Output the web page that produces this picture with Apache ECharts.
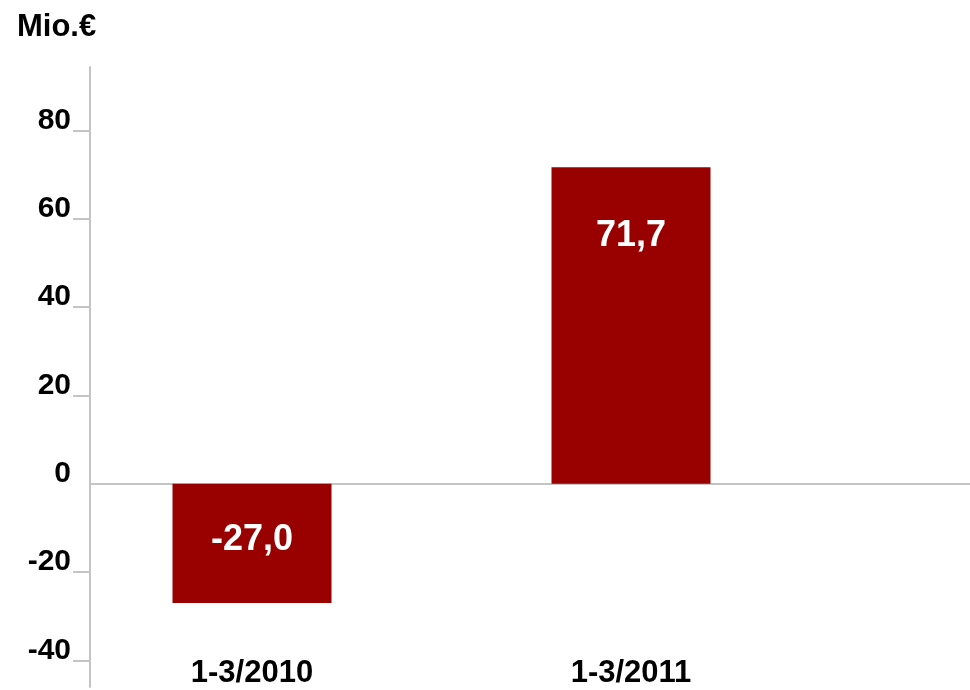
<!DOCTYPE html>
<html>
<head>
<meta charset="utf-8">
<script src="https://cdn.jsdelivr.net/npm/echarts@6/dist/echarts.min.js"></script>
<style>html,body{margin:0;padding:0;background:#fff}#c{width:970px;height:690px}</style>
</head>
<body>
<div id="c"></div>
<script>
var categories = ['1-3/2010', '1-3/2011'];
var values = [-27.0, 71.7];
var tickValues = [-40, -20, 0, 20, 40, 60, 80];
var tickMarks = [-40, -20, 20, 40, 60, 80];
var unitLabel = 'Mio.€';

var FONT = '"Liberation Sans", Arial, sans-serif';
var YMIN = -46, YMAX = 94.4;
var GREY = '#c4c4c4';

var chart = echarts.init(document.getElementById('c'), null, {renderer: 'canvas'});
chart.setOption({
  animation: false,
  backgroundColor: '#fff',
  title: {
    text: unitLabel, left: 12, top: 7,
    textStyle: {fontFamily: FONT, fontWeight: 'bold', fontSize: 31, color: '#000'}
  },
  grid: [
    {left: 90, right: 0, top: 67, bottom: 3},
    {left: 62.5, right: 149.5, top: 67, bottom: 3}
  ],
  xAxis: [
    {
      gridIndex: 0, type: 'value', min: 0, max: 1,
      axisLine: {show: true, onZero: true, lineStyle: {color: GREY, width: 2}},
      axisTick: {show: false}, axisLabel: {show: false}, splitLine: {show: false}
    },
    {
      gridIndex: 1, type: 'category', data: categories, position: 'bottom',
      offset: -32,
      axisLine: {show: false, onZero: false}, axisTick: {show: false}, splitLine: {show: false},
      axisLabel: {margin: 3, fontFamily: FONT, fontWeight: 'bold', fontSize: 31, color: '#000'}
    }
  ],
  yAxis: [
    {
      gridIndex: 0, type: 'value', min: YMIN, max: YMAX,
      axisLine: {show: true, lineStyle: {color: GREY, width: 2}},
      axisTick: {show: true, length: 17, lineStyle: {color: GREY, width: 2}, customValues: tickMarks},
      splitLine: {show: false},
      axisLabel: {
        customValues: tickValues, margin: 19,
        fontFamily: FONT, fontWeight: 'bold', fontSize: 30, color: '#000',
        verticalAlign: 'bottom', lineHeight: 20
      }
    },
    {
      gridIndex: 1, type: 'value', min: YMIN, max: YMAX, show: false
    }
  ],
  series: [{
    type: 'bar', xAxisIndex: 1, yAxisIndex: 1,
    barWidth: 159,
    itemStyle: {color: '#990000'},
    data: values.map(function (v, i) {
      return {
        value: v,
        label: {distance: i === 0 ? 38 : 51}
      };
    }),
    label: {
      show: true, position: 'insideTop',
      fontFamily: FONT, fontWeight: 'bold', fontSize: 36, color: '#fff',
      formatter: function (p) { return p.value.toFixed(1).replace('.', ','); }
    }
  }]
});
</script>
</body>
</html>
